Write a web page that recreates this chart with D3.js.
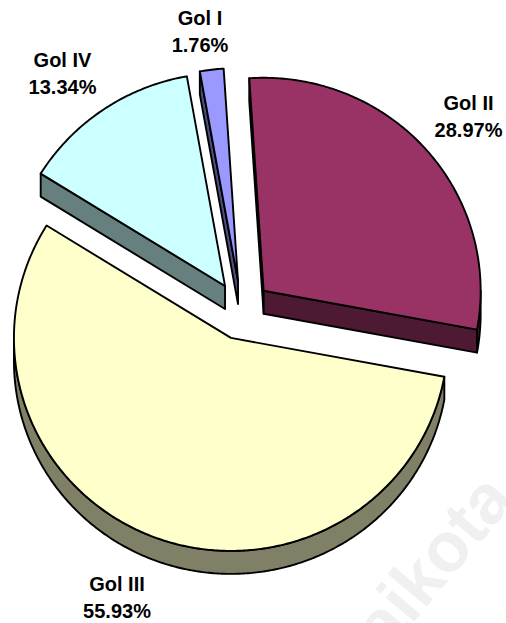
<!DOCTYPE html>
<html><head><meta charset="utf-8">
<script src="https://d3js.org/d3.v7.min.js"></script>
<style>html,body{margin:0;padding:0;background:#fff}svg{display:block}</style>
</head><body><svg id="c" width="506" height="623"></svg>
<script>
const categories = ["Gol II","Gol III","Gol IV","Gol I"];
const values = [28.97,55.93,13.34,1.76];
const percentLabels = ["28.97%","55.93%","13.34%","1.76%"];
const topColors = ["#993366","#FFFFCC","#CCFFFF","#9999FF"];
const sideColors = ["#4D1933","#808066","#668080","#4D4D80"];
const drawOrder = [3,2,0,1];
const labelAnchors = [[468.5,110],[117,591],[62.5,67],[200,25]];
const watermark = "aikota";

const W=506,H=623, cx=241.6, cy=310.4, rx=217, ry=213, explode=29.5, depth=23, lineGap=27;
const TAU=2*Math.PI, start=-3.8*Math.PI/180;
const svg=d3.select("#c");
const arcs=d3.pie().sort(null).startAngle(start).endAngle(start+TAU)(values);
const line=d3.line();
const norm=a=>((a%TAU)+TAU)%TAU;

svg.append("text").attr("transform","translate(386,655) rotate(-50)")
  .attr("font-family","'Liberation Sans',Arial,sans-serif").attr("font-weight","bold")
  .attr("font-size",70).attr("fill","#f0f0f0").text(watermark);

arcs.forEach(d=>{d.mid=(d.startAngle+d.endAngle)/2;
  d.ox=cx+explode*Math.sin(d.mid); d.oy=cy-explode*Math.cos(d.mid);});
const pt=(d,a,dz=0)=>[d.ox+rx*Math.sin(a), d.oy-ry*Math.cos(a)+dz];
const samples=(a0,a1)=>{const n=Math.max(2,Math.ceil((a1-a0)/0.01));
  return d3.range(n+1).map(i=>a0+(a1-a0)*i/n);};

drawOrder.forEach(i=>{
  const d=arcs[i], g=svg.append("g");
  const style=s=>s.attr("fill",sideColors[i]).attr("stroke","#000").attr("stroke-width",1.9).attr("stroke-linejoin","round");
  const apex=[d.ox,d.oy], apexB=[d.ox,d.oy+depth];
  if(norm(d.startAngle)>Math.PI){
    g.append("path").attr("d",line([apex,pt(d,d.startAngle),pt(d,d.startAngle,depth),apexB])+"Z").call(style);
  }
  const en=norm(d.endAngle);
  if(en>0&&en<Math.PI){
    g.append("path").attr("d",line([apex,pt(d,d.endAngle),pt(d,d.endAngle,depth),apexB])+"Z").call(style);
  }
  const lo=Math.max(d.startAngle,Math.PI/2), hi=Math.min(d.endAngle,Math.PI*1.5);
  if(hi>lo){
    const s=samples(lo,hi);
    const pts=s.map(a=>pt(d,a)).concat(s.slice().reverse().map(a=>pt(d,a,depth)));
    g.append("path").attr("d",line(pts)+"Z").call(style);
  }
  const top=[apex].concat(samples(d.startAngle,d.endAngle).map(a=>pt(d,a)));
  g.append("path").attr("d",line(top)+"Z").attr("fill",topColors[i]).attr("stroke","#000").attr("stroke-width",1.9).attr("stroke-linejoin","round");
});

categories.forEach((c,i)=>{
  const [x,y]=labelAnchors[i];
  const t=svg.append("text").attr("text-anchor","middle").attr("font-family","'Liberation Sans',Arial,sans-serif")
    .attr("font-weight","bold").attr("font-size",20).attr("fill","#000");
  t.append("tspan").attr("x",x).attr("y",y).text(c);
  t.append("tspan").attr("x",x).attr("y",y+lineGap).text(percentLabels[i]);
});
</script></body></html>
